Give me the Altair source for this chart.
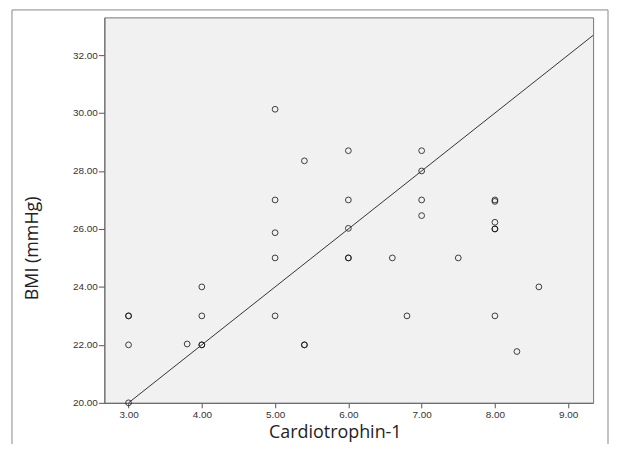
import altair as alt
import pandas as pd

cardio = [3, 3, 3, 3, 3.8, 4, 4, 4, 4, 5, 5, 5, 5, 5, 5.4, 5.4, 5.4,
          6, 6, 6, 6, 6, 6.6, 6.8, 7, 7, 7, 7, 7.5, 8, 8, 8, 8, 8, 8, 8.3, 8.6]
bmi = [20, 22, 23, 23, 22.03, 22, 22, 23, 24, 30.13, 27, 25.87, 25, 23, 28.35, 22, 22,
       28.7, 27, 26.02, 25, 25, 25, 23, 28.7, 28, 27, 26.46, 25, 27, 26.95, 26.23, 26, 26, 23, 21.77, 24]

fit_x = [3.0, 9.34]
fit_y = [20.0, 32.68]

x_ticks = [3, 4, 5, 6, 7, 8, 9]
y_ticks = [20, 22, 24, 26, 28, 30, 32]

pts = pd.DataFrame({"Cardiotrophin-1": cardio, "BMI": bmi})
fit = pd.DataFrame({"Cardiotrophin-1": fit_x, "BMI": fit_y})

xscale = alt.Scale(domain=[2.67, 9.34], nice=False, zero=False)
yscale = alt.Scale(domain=[20, 33.3], nice=False, zero=False)

xaxis = alt.Axis(values=x_ticks, format=".2f", title="Cardiotrophin-1", grid=False,
                 labelFont="Liberation Sans", labelFontSize=10, labelColor="#333",
                 tickColor="#555", tickSize=5, labelPadding=2, domainColor="#666",
                 titleFont="Open Sans", titleFontSize=18, titleFontWeight="normal",
                 titleColor="#222", titleX=232, titleY=35,
                 titleBaseline="alphabetic", titleAlign="center")
yaxis = alt.Axis(values=y_ticks, format=".2f", title="BMI (mmHg)", grid=False,
                 labelFont="Liberation Sans", labelFontSize=10, labelColor="#333",
                 tickColor="#555", tickSize=6, labelPadding=1, domainColor="#666",
                 titleFont="Open Sans", titleFontSize=18, titleFontWeight="normal",
                 titleColor="#222", titleX=-72, titleY=232, titleAngle=270,
                 titleBaseline="middle", titleAlign="center")

frame = alt.Chart(pd.DataFrame({"a": [0]})).mark_rect(
    fill=None, stroke="#888", strokeWidth=1, clip=False
).encode(x=alt.value(-93), x2=alt.value(507), y=alt.value(-7.5), y2=alt.value(460))

points = alt.Chart(pts).mark_point(
    shape="circle", filled=False, size=34, color="#111", strokeWidth=1, opacity=0.8
).encode(
    x=alt.X("Cardiotrophin-1:Q", scale=xscale, axis=xaxis),
    y=alt.Y("BMI:Q", scale=yscale, axis=yaxis),
)

line = alt.Chart(fit).mark_line(color="#333", strokeWidth=1).encode(
    x=alt.X("Cardiotrophin-1:Q", scale=xscale),
    y=alt.Y("BMI:Q", scale=yscale),
)

chart = alt.layer(frame, points, line).properties(
    width=492, height=388,
    autosize=alt.AutoSizeParams(type="none"),
    padding={"left": 97, "top": 8, "right": 16, "bottom": 40},
    background="white",
).configure_view(fill="#f0f1f0", stroke="#777", strokeWidth=1)

chart.save("out.html", embed_options={"renderer": "svg", "actions": False})
